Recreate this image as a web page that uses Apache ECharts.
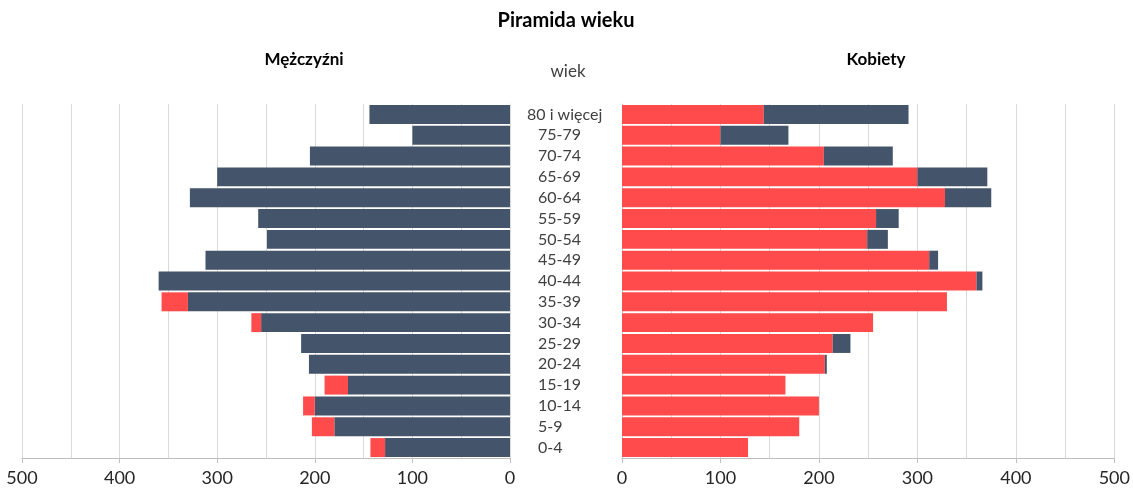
<!DOCTYPE html>
<html>
<head>
<meta charset="utf-8">
<script src="https://cdn.jsdelivr.net/npm/echarts@6/dist/echarts.min.js"></script>
<style>html,body{margin:0;padding:0;background:#fff}#c{width:1133px;height:490px}</style>
</head>
<body>
<div id="c"></div>
<script>
// Age groups, bottom to top
const categories = ['0-4','5-9','10-14','15-19','20-24','25-29','30-34','35-39','40-44','45-49','50-54','55-59','60-64','65-69','70-74','75-79','80 i więcej'];
// Men (Mężczyźni)
const men   = [143, 203, 212, 190, 206, 214, 265, 357, 360, 312, 249, 258, 328, 300, 205, 100, 144];
// Women (Kobiety)
const women = [128, 180, 200, 166, 208, 232, 255, 330, 366, 321, 270, 281, 375, 371, 275, 169, 291];
const axisTicks = [0, 100, 200, 300, 400, 500];

const DARK = '#44546a', RED = '#ff4b4b';
const common = men.map((m, i) => Math.min(m, women[i]));
const menExcess = men.map((m, i) => m - common[i]);
const womenExcess = women.map((w, i) => w - common[i]);

const chart = echarts.init(document.getElementById('c'));
const FONT = 'Lato';
const xAxisBase = (gi, inverse) => ({
  type: 'value', gridIndex: gi, inverse: inverse,
  min: axisTicks[0], max: axisTicks[axisTicks.length - 1], interval: 100,
  axisLine: { show: true, lineStyle: { color: '#bfbfbf', width: 1 } },
  axisTick: { show: true, length: 5, lineStyle: { color: '#bfbfbf' } },
  axisLabel: { fontFamily: FONT, fontSize: 18, color: '#262626', margin: 11 },
  splitLine: { show: true, lineStyle: { color: '#d9d9d9', width: 1 } },
  minorTick: { show: false, splitNumber: 2 },
  minorSplitLine: { show: true, lineStyle: { color: '#d9d9d9', width: 1 } }
});
chart.setOption({
  animation: false,
  textStyle: { fontFamily: FONT },
  grid: [
    { left: 22, right: 623, top: 104, bottom: 32 },
    { left: 622, right: 17, top: 104, bottom: 32 }
  ],
  xAxis: [xAxisBase(0, true), xAxisBase(1, false)],
  yAxis: [
    { type: 'category', gridIndex: 0, position: 'right', data: categories,
      axisLine: { show: true, lineStyle: { color: '#d9d9d9' } }, axisTick: { show: false },
      axisLabel: {
        interval: 0, margin: 17, align: 'left', color: '#404040', fontFamily: FONT, fontSize: 16,
        formatter: v => v === '80 i więcej' ? '{w|' + v + '}' : '{s|' + v + '}',
        rich: { w: { fontFamily: FONT, fontSize: 16, color: '#404040' },
                s: { fontFamily: FONT, fontSize: 16, color: '#404040', padding: [0, 0, 0, 11] } }
      } },
    { type: 'category', gridIndex: 1, position: 'left', data: categories,
      axisLine: { show: true, lineStyle: { color: '#d9d9d9' } }, axisTick: { show: false },
      axisLabel: { show: false } }
  ],
  series: [
    { type: 'bar', xAxisIndex: 0, yAxisIndex: 0, stack: 'm', data: common,
      itemStyle: { color: DARK }, barCategoryGap: '9%' },
    { type: 'bar', xAxisIndex: 0, yAxisIndex: 0, stack: 'm', data: menExcess,
      itemStyle: { color: RED }, barCategoryGap: '9%' },
    { type: 'bar', xAxisIndex: 1, yAxisIndex: 1, stack: 'w', data: common,
      itemStyle: { color: RED }, barCategoryGap: '9%' },
    { type: 'bar', xAxisIndex: 1, yAxisIndex: 1, stack: 'w', data: womenExcess,
      itemStyle: { color: DARK }, barCategoryGap: '9%' }
  ],
  graphic: [
    { type: 'text', x: 566, y: 21, style: { text: 'Piramida wieku', font: 'bold 20px Lato', fill: '#000', textAlign: 'center', textVerticalAlign: 'middle' } },
    { type: 'text', x: 304, y: 60, style: { text: 'Mężczyźni', font: 'bold 17px Lato', fill: '#000', textAlign: 'center', textVerticalAlign: 'middle' } },
    { type: 'text', x: 876, y: 60, style: { text: 'Kobiety', font: 'bold 17px Lato', fill: '#000', textAlign: 'center', textVerticalAlign: 'middle' } },
    { type: 'text', x: 568, y: 72, style: { text: 'wiek', font: '17px Lato', fill: '#404040', textAlign: 'center', textVerticalAlign: 'middle' } }
  ]
});
</script>
</body>
</html>
